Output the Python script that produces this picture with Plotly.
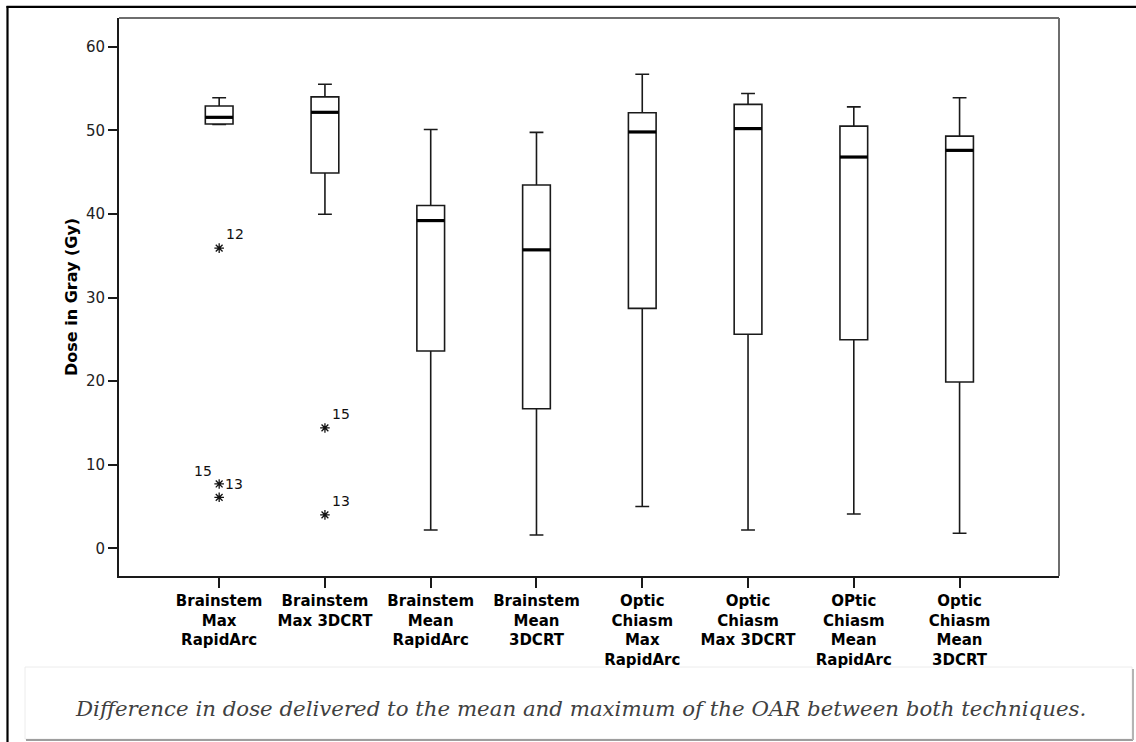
import plotly.graph_objects as go

# ---------------- data ----------------
categories = [
    "Brainstem<br>Max<br>RapidArc",
    "Brainstem<br>Max 3DCRT",
    "Brainstem<br>Mean<br>RapidArc",
    "Brainstem<br>Mean<br>3DCRT",
    "Optic<br>Chiasm<br>Max<br>RapidArc",
    "Optic<br>Chiasm<br>Max 3DCRT",
    "OPtic<br>Chiasm<br>Mean<br>RapidArc",
    "Optic<br>Chiasm<br>Mean<br>3DCRT",
]
lower_whisker = [50.7, 39.95, 2.2, 1.6, 5.0, 2.2, 4.1, 1.8]
q1_values     = [50.75, 44.9, 23.6, 16.7, 28.7, 25.6, 24.95, 19.9]
median_values = [51.55, 52.15, 39.2, 35.7, 49.8, 50.2, 46.8, 47.6]
q3_values     = [52.9, 54.0, 41.0, 43.45, 52.1, 53.1, 50.5, 49.3]
upper_whisker = [53.9, 55.5, 50.1, 49.75, 56.7, 54.4, 52.8, 53.9]

outlier_cat = [0, 0, 0, 1, 1]
outlier_val = [35.9, 7.7, 6.1, 14.4, 4.0]

label_cat  = [0, 0, 0, 1, 1]
label_val  = [35.9, 7.7, 7.7, 14.4, 4.0]
label_text = ["12", "15", "13", "15", "13"]
label_side = ["upper-right", "upper-left", "right", "upper-right", "upper-right"]

y_ticks = [0, 10, 20, 30, 40, 50, 60]
y_title = "Dose in Gray (Gy)"
caption = "Difference in dose delivered to the mean and maximum of the OAR between both techniques."

# ---------------- layout constants ----------------
W, H = 1136, 742
PLOT_L, PLOT_R, PLOT_T, PLOT_B = 119, 1059, 18, 576
ML, MR, MT, MB = PLOT_L, W - PLOT_R, PLOT_T, H - PLOT_B
PW, PH = PLOT_R - PLOT_L, PLOT_B - PLOT_T
BOX_W = 0.262


def px_x(p):
    return (p - PLOT_L) / PW


def px_y(p):
    return (PLOT_B - p) / PH


side_shift = {
    "upper-right": (16, 14),
    "upper-left": (-16, 13),
    "right": (15, 0),
}

idx = list(range(len(categories)))

fig = go.Figure()
fig.add_trace(go.Box(
    x=idx,
    q1=q1_values, median=median_values, q3=q3_values,
    lowerfence=lower_whisker, upperfence=upper_whisker,
    width=BOX_W, whiskerwidth=0.5,
    fillcolor="white",
    line=dict(color="#1a1a1a", width=1.6),
    boxpoints=False, showlegend=False, hoverinfo="skip",
))

fig.add_trace(go.Scatter(
    x=outlier_cat, y=outlier_val, mode="markers",
    marker=dict(symbol="asterisk-open", size=8, color="#111",
                line=dict(color="#111", width=1.3)),
    showlegend=False, hoverinfo="skip",
))

shapes = []
for i, m in zip(idx, median_values):
    shapes.append(dict(type="line", xref="x", yref="y",
                       x0=i - BOX_W / 2, x1=i + BOX_W / 2, y0=m, y1=m,
                       line=dict(color="black", width=3.2), layer="above"))

# plot frame (top / right in grey)
shapes.append(dict(type="line", xref="paper", yref="paper", x0=0, x1=1, y0=1, y1=1,
                   line=dict(color="#6e6e6e", width=2)))
shapes.append(dict(type="line", xref="paper", yref="paper", x0=1, x1=1, y0=0, y1=1,
                   line=dict(color="#6e6e6e", width=2)))

# outer page border (top and left)
shapes.append(dict(type="line", xref="paper", yref="paper",
                   x0=px_x(6.5), x1=px_x(W + 2), y0=px_y(6.8), y1=px_y(6.8),
                   line=dict(color="black", width=2.2)))
shapes.append(dict(type="line", xref="paper", yref="paper",
                   x0=px_x(7.5), x1=px_x(7.5), y0=px_y(6), y1=px_y(H + 2),
                   line=dict(color="black", width=2.2)))

# caption box
shapes.append(dict(type="rect", xref="paper", yref="paper",
                   x0=px_x(25), x1=px_x(1132), y0=px_y(739), y1=px_y(667),
                   fillcolor="white", line=dict(color="#ececec", width=1), layer="below"))
shapes.append(dict(type="line", xref="paper", yref="paper",
                   x0=px_x(26), x1=px_x(1133), y0=px_y(740), y1=px_y(740),
                   line=dict(color="#9e9e9e", width=2)))
shapes.append(dict(type="line", xref="paper", yref="paper",
                   x0=px_x(1133), x1=px_x(1133), y0=px_y(669), y1=px_y(740),
                   line=dict(color="#b4b4b4", width=2)))

annotations = []
for c, v, t, s in zip(label_cat, label_val, label_text, label_side):
    dx, dy = side_shift[s]
    annotations.append(dict(x=c, y=v, xref="x", yref="y", text=t, showarrow=False,
                            xshift=dx, yshift=dy,
                            font=dict(family="DejaVu Sans", size=14, color="#111")))

annotations.append(dict(x=px_x(71), y=0.5, xref="paper", yref="paper",
                        text=y_title, textangle=-90, showarrow=False,
                        xanchor="center", yanchor="middle",
                        font=dict(family="DejaVu Sans", size=16, color="black", weight="bold")))

annotations.append(dict(x=px_x(580), y=px_y(708), xref="paper", yref="paper",
                        text=caption, showarrow=False,
                        xanchor="center", yanchor="middle",
                        font=dict(family="DejaVu Serif", size=21.3, color="#404040",
                                  style="italic")))

fig.update_layout(
    width=W, height=H,
    margin=dict(l=ML, r=MR, t=MT, b=MB, pad=0),
    paper_bgcolor="white", plot_bgcolor="white",
    shapes=shapes, annotations=annotations,
    showlegend=False,
)

fig.update_xaxes(
    range=[-0.947, 7.94],
    tickmode="array", tickvals=idx, ticktext=categories,
    ticks="outside", ticklen=10, tickwidth=1.6, tickcolor="#1a1a1a",
    showline=True, linecolor="#1a1a1a", linewidth=2,
    showgrid=False, zeroline=False,
    tickfont=dict(family="DejaVu Sans", size=15, color="black", weight="bold"),
)
fig.update_yaxes(
    range=[-3.31, 63.43],
    tickmode="array", tickvals=y_ticks,
    ticks="outside", ticklen=9, tickwidth=1.6, tickcolor="#1a1a1a",
    showline=True, linecolor="#1a1a1a", linewidth=2,
    showgrid=False, zeroline=False,
    tickfont=dict(family="DejaVu Sans", size=15, color="#222"),
)

fig.write_html(
    "out.html",
    config={"displayModeBar": False},
    post_script="document.body.style.margin='0';document.body.style.overflow='hidden';",
)
